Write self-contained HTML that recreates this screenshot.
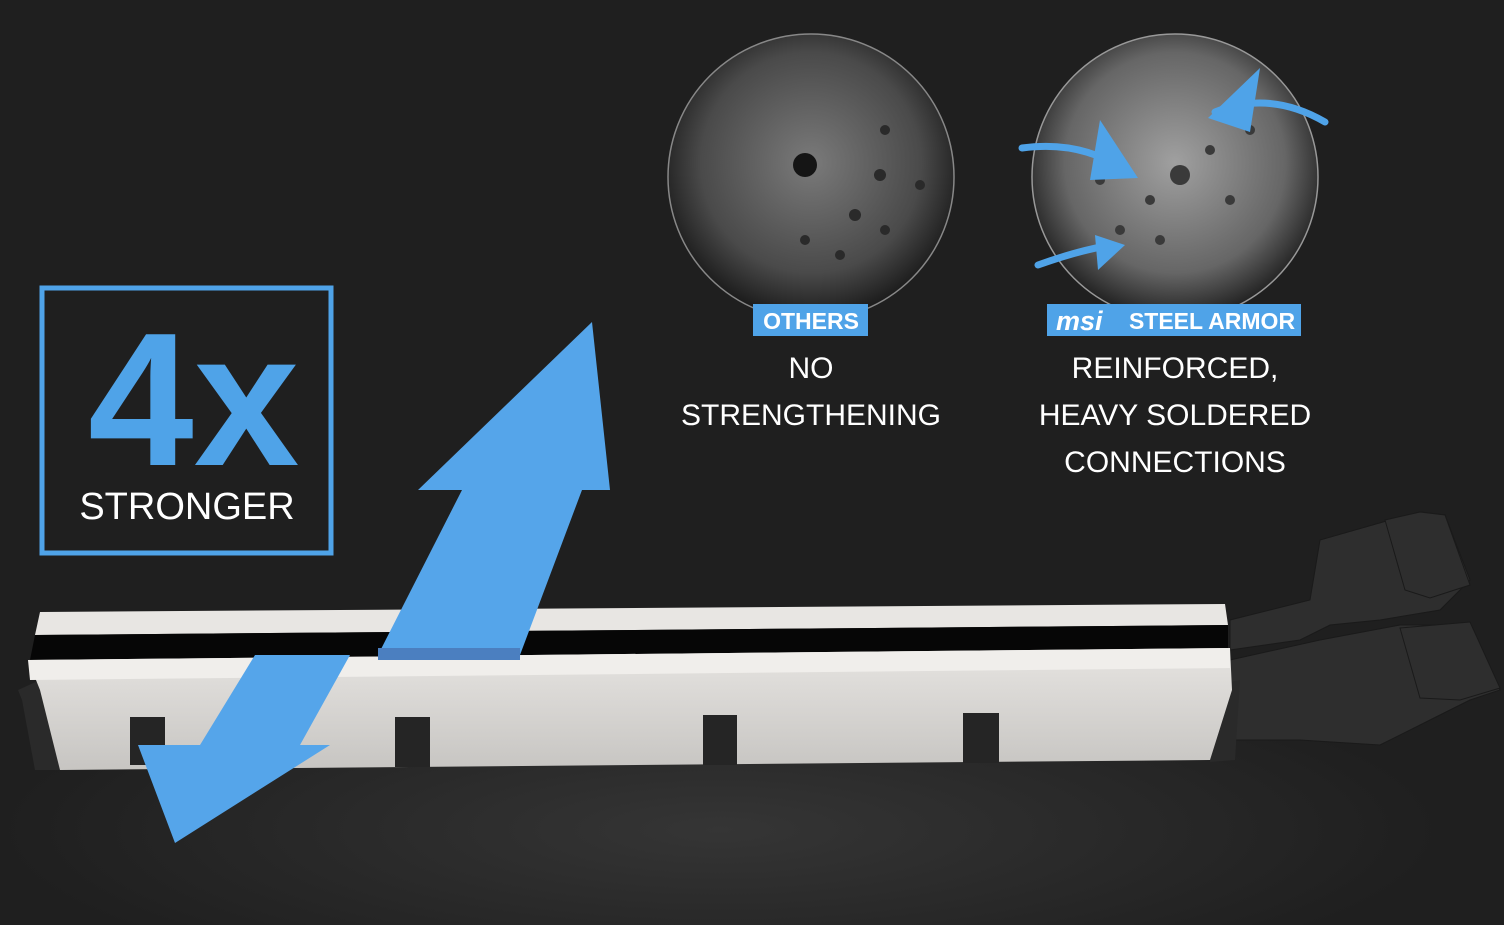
<!DOCTYPE html>
<html><head><style>
html,body{margin:0;padding:0;width:1504px;height:925px;overflow:hidden;background:#1f1f1f;font-family:"Liberation Sans","DejaVu Sans",sans-serif}
svg{display:block}
</style></head><body>
<svg width="1504" height="925" viewBox="0 0 1504 925" xmlns="http://www.w3.org/2000/svg" style="overflow:hidden">
<defs>
<radialGradient id="bg" cx="0.5" cy="0.5" r="0.5">
<stop offset="0" stop-color="#353535"/><stop offset="1" stop-color="#1f1f1f"/></radialGradient>
<radialGradient id="c1" cx="0.5" cy="0.45" r="0.55"><stop offset="0" stop-color="#7a7a7a"/><stop offset="0.7" stop-color="#4a4a4a"/><stop offset="1" stop-color="#1a1a1a"/></radialGradient>
<radialGradient id="c2" cx="0.5" cy="0.45" r="0.55"><stop offset="0" stop-color="#a0a0a0"/><stop offset="0.7" stop-color="#666"/><stop offset="1" stop-color="#202020"/></radialGradient>
<linearGradient id="face" x1="0" y1="0" x2="0" y2="1"><stop offset="0" stop-color="#e6e4e1"/><stop offset="1" stop-color="#c7c5c2"/></linearGradient>
</defs>
<rect width="1504" height="925" fill="#1f1f1f"/>
<ellipse cx="720" cy="830" rx="720" ry="170" fill="url(#bg)"/>
<circle cx="811" cy="177" r="143" fill="url(#c1)" stroke="#888" stroke-width="1.5"/>
<circle cx="805" cy="165" r="12" fill="#151515"/>
<g fill="#2a2a2a"><circle cx="885" cy="130" r="5"/><circle cx="880" cy="175" r="6"/><circle cx="855" cy="215" r="6"/><circle cx="885" cy="230" r="5"/><circle cx="805" cy="240" r="5"/><circle cx="840" cy="255" r="5"/><circle cx="920" cy="185" r="5"/></g>
<circle cx="1175" cy="177" r="143" fill="url(#c2)" stroke="#999" stroke-width="1.5"/>
<g fill="#3a3a3a"><circle cx="1180" cy="175" r="10"/><circle cx="1150" cy="200" r="5"/><circle cx="1210" cy="150" r="5"/><circle cx="1120" cy="230" r="5"/><circle cx="1230" cy="200" r="5"/><circle cx="1160" cy="240" r="5"/><circle cx="1250" cy="130" r="5"/><circle cx="1100" cy="180" r="5"/></g>
<g fill="none" stroke="#4fa3e8" stroke-width="7" stroke-linecap="round">
<path d="M1022 148 Q1080 140 1125 170"/><path d="M1325 122 Q1270 90 1215 112"/><path d="M1038 265 Q1080 250 1112 245"/></g>
<g fill="#4fa3e8"><polygon points="1100,120 1138,178 1090,180"/><polygon points="1260,68 1208,118 1250,132"/><polygon points="1095,235 1125,245 1098,270"/></g>
<rect x="753" y="304" width="115" height="32" fill="#4fa3e8"/>
<text x="811" y="329" fill="#fff" font-size="23" font-weight="bold" text-anchor="middle">OTHERS</text>
<rect x="1047" y="304" width="254" height="32" fill="#4fa3e8"/>
<text x="1056" y="330" fill="#fff" font-size="27" font-weight="bold" font-style="italic">msi</text>
<text x="1212" y="329" fill="#fff" font-size="23" font-weight="bold" text-anchor="middle">STEEL ARMOR</text>
<g fill="#fff" font-size="30" text-anchor="middle">
<text x="811" y="378">NO</text><text x="811" y="425">STRENGTHENING</text>
<text x="1175" y="378">REINFORCED,</text><text x="1175" y="425">HEAVY SOLDERED</text><text x="1175" y="472">CONNECTIONS</text></g>
<rect x="42" y="288" width="289" height="265" fill="none" stroke="#4fa3e8" stroke-width="5"/>
<text x="88" y="465" fill="#4fa3e8" font-size="190" font-weight="bold">4x</text>
<text x="187" y="519" fill="#fff" font-size="38" text-anchor="middle">STRONGER</text>
<g fill="#2e2e2e" stroke="#1a1a1a">
<polygon points="1230,620 1310,600 1320,540 1390,520 1420,512 1445,515 1470,580 1440,610 1380,620 1330,625 1300,640 1230,650"/>
<polygon points="1230,660 1320,640 1400,625 1470,625 1500,690 1470,700 1440,715 1380,745 1300,740 1230,740"/>
<polygon points="1385,520 1420,512 1445,515 1470,585 1430,598 1405,590"/>
<polygon points="1400,628 1470,622 1500,688 1460,700 1420,698"/>
</g>
<polygon points="18,690 40,680 60,770 35,770 22,700" fill="#2a2a2a"/>
<polygon points="1215,685 1240,680 1235,760 1210,762" fill="#2a2a2a"/>
<polygon points="40,612 1225,604 1228,625 35,635" fill="#e8e6e3"/>
<polygon points="35,635 1228,625 1228,650 30,660" fill="#060606"/>
<polygon points="28,660 1230,648 1232,690 1210,760 60,770 40,690" fill="url(#face)"/>
<polygon points="28,660 1230,648 1230,668 30,680" fill="#f0eeeb"/>
<g fill="#252525"><rect x="130" y="717" width="35" height="48"/><rect x="395" y="717" width="35" height="50"/><rect x="703" y="715" width="34" height="50"/><rect x="963" y="713" width="36" height="50"/></g>
<polygon points="378,655 520,655 582,490 610,490 592,322 418,490 462,490" fill="#55a5ea"/>
<rect x="378" y="648" width="142" height="12" fill="#4b7fc0"/>
<polygon points="255,655 350,655 300,745 330,745 175,843 138,745 200,745" fill="#55a5ea"/>
</svg>
</body></html>
